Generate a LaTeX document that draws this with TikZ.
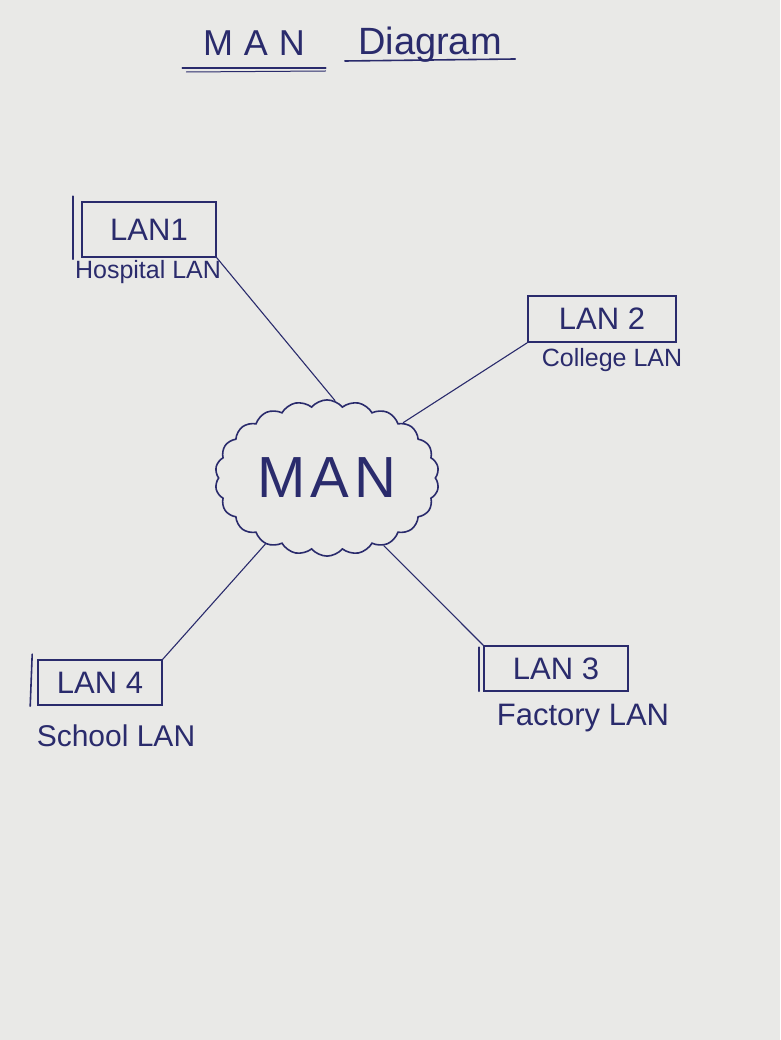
\documentclass[tikz,border=0pt]{standalone}
\usepackage{fontspec}
\setmainfont{Liberation Sans}
\usetikzlibrary{shapes.symbols,calc}
\definecolor{paper}{HTML}{E9E9E7}
\definecolor{ink}{HTML}{2A2B6C}
\begin{document}
\begin{tikzpicture}[x=1pt,y=-1pt,
  lanbox/.style={draw=ink, line width=1.6pt, rectangle, inner sep=0pt, text=ink,
    font=\fontsize{31}{36}\selectfont},
  lbl/.style={text=ink, inner sep=0pt, font=\fontsize{25}{30}\selectfont},
  wire/.style={draw=ink, line width=1.1pt},
  stroke/.style={draw=ink, line width=1.6pt, line cap=round},
  ttl/.style={text=ink, inner sep=0pt, anchor=base}]
\fill[paper] (0,0) rectangle (780,1040);
\useasboundingbox (0,0) rectangle (780,1040);

% title
\node[ttl, minimum width=143, font=\fontsize{36}{40}\selectfont\addfontfeature{LetterSpace=30}] (titleA) at (254,56) {MAN};
\node[ttl, minimum width=170, font=\fontsize{38}{42}\selectfont] (titleB) at (430,55) {Diagram};
\draw[stroke] ($(titleA.base west)+(0,12)$) -- ($(titleA.base east)+(0,12)$);
\draw[stroke, line width=1pt] ($(titleA.base west)+(4,16)$) -- ($(titleA.base east)+(0,15)$);
\draw[stroke] ($(titleB.base west)+(0,6)$) -- ($(titleB.base east)+(0,4)$);

% LAN boxes
\node[lanbox, minimum width=134, minimum height=55] (lan1) at (149,229.5) {LAN1};
\node[lanbox, minimum width=148, minimum height=46] (lan2) at (602,319) {LAN 2};
\node[lanbox, minimum width=144, minimum height=45] (lan3) at (556,668.5) {LAN 3};
\node[lanbox, minimum width=124, minimum height=45] (lan4) at (100,682.5) {LAN 4};

\draw[stroke] ($(lan1.north west)+(-8,-5)$) -- ++(0,63);
\draw[stroke] ($(lan4.north west)+(-5,-5)$) -- ++(-2,52);
\draw[stroke] ($(lan3.north west)+(-4,2)$) -- ++(0,44);

% labels
\node[lbl] (hosp) at (148,272) {Hospital LAN};
\node[lbl] (coll) at (612,360) {College LAN};
\node[lbl, font=\fontsize{30}{34}\selectfont] (school) at (116,736) {School LAN};
\node[lbl, font=\fontsize{31}{36}\selectfont] (fact) at (583,718) {Factory LAN};

% cloud
\node[cloud, draw=ink, line width=1.6pt, cloud puffs=22, cloud puff arc=100, aspect=1.35,
  minimum width=224, minimum height=142, inner sep=0pt, text=ink,
  font=\fontsize{58}{64}\selectfont\addfontfeature{LetterSpace=8}] (man) at (327,478) {MAN};

% connectors
\draw[wire] (lan1.south east) -- (man.84);
\draw[wire] (lan2.south west) -- (man.36);
\draw[wire] (lan4.north east) -- (man.227);
\draw[wire] (lan3.north west) -- (man.310);
\end{tikzpicture}
\end{document}
